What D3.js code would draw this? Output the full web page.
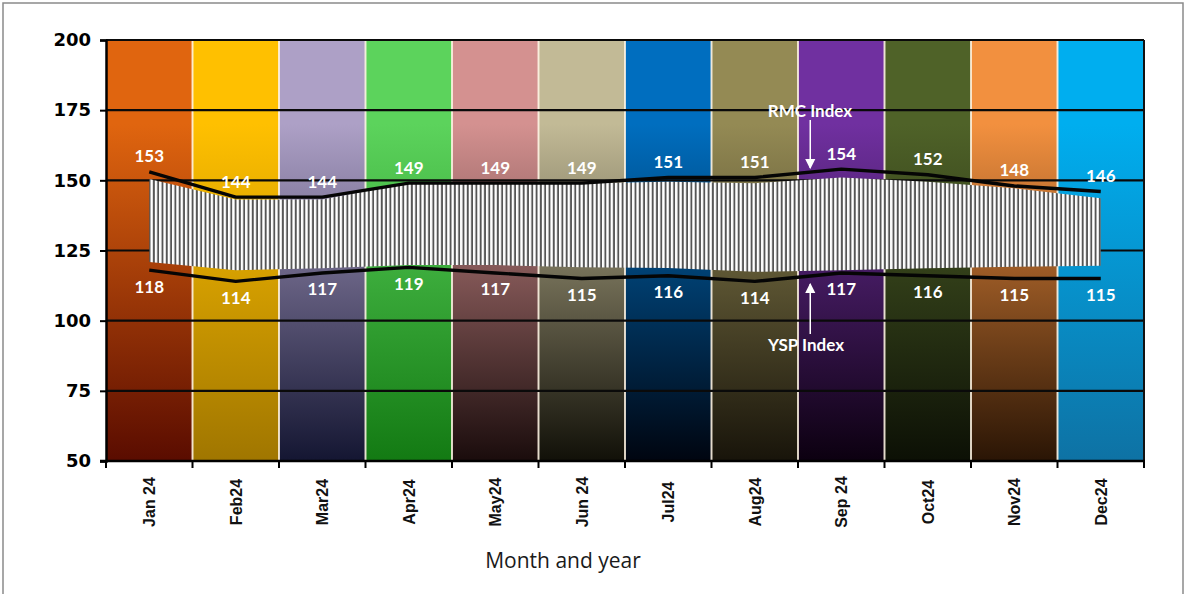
<!DOCTYPE html>
<html>
<head>
<meta charset="utf-8">
<script src="https://cdn.jsdelivr.net/npm/d3@7"></script>
<style>
  body { margin: 0; background: #fff; }
  svg { display: block; }
</style>
</head>
<body>
<svg id="chart" width="1187" height="594"></svg>
<script>
// Monthly index values
const months = ["Jan 24", "Feb24", "Mar24", "Apr24", "May24", "Jun 24", "Jul24", "Aug24", "Sep 24", "Oct24", "Nov24", "Dec24"];
const rmcIndex = [153, 144, 144, 149, 149, 149, 151, 151, 154, 152, 148, 146];
const yspIndex = [118, 114, 117, 119, 117, 115, 116, 114, 117, 116, 115, 115];
// Edges of the hatched band lying between the two index lines
const bandTop = [150.5, 143.2, 143.2, 149, 149, 149, 149.5, 149, 151, 149.5, 147.2, 143.6];
const bandBottom = [120.9, 118, 118.7, 119.8, 119.8, 119, 118.8, 117.4, 118, 118.7, 119.2, 119.6];
const yTicks = [50, 75, 100, 125, 150, 175, 200];

// Column backdrop colours (top, bottom of each gradient)
const colTop = ["#E0650F", "#FFC000", "#ADA0C6", "#5CD35C", "#D49190", "#C2BA96", "#006EBF", "#948A54", "#7030A0", "#4F6228", "#F2903F", "#00AEEF"];
const colBottom = ["#5A0C00", "#A07600", "#141632", "#137A13", "#1A0C0C", "#111008", "#000510", "#18140A", "#0C0010", "#0C1005", "#2A1505", "#0E72A4"];

const svg = d3.select("#chart");
const plotLeft = 106, plotRight = 1144, plotTop = 40, plotBottom = 461;

const x = d3.scaleBand().domain(months).range([plotLeft, plotRight]).padding(0);
const y = d3.scaleLinear().domain([50, 200]).range([plotBottom, plotTop]);
const cx = m => x(m) + x.bandwidth() / 2;

// Outer frame
svg.append("rect")
  .attr("x", 3).attr("y", 3).attr("width", 1180).attr("height", 600)
  .attr("fill", "#fff").attr("stroke", "#8a8a8a").attr("stroke-width", 1.5);

const defs = svg.append("defs");
months.forEach((m, i) => {
  const g = defs.append("linearGradient")
    .attr("id", "col" + i).attr("x1", 0).attr("y1", 0).attr("x2", 0).attr("y2", 1);
  g.append("stop").attr("offset", "0%").attr("stop-color", colTop[i]);
  g.append("stop").attr("offset", "20%").attr("stop-color", colTop[i]);
  g.append("stop").attr("offset", "100%").attr("stop-color", colBottom[i]);
});

// Vertical stripe pattern for the band
const pat = defs.append("pattern")
  .attr("id", "stripes").attr("patternUnits", "userSpaceOnUse")
  .attr("width", 4.3).attr("height", 10);
pat.append("rect").attr("width", 4.3).attr("height", 10).attr("fill", "#555");
pat.append("rect").attr("width", 2.4).attr("height", 10).attr("fill", "#ffffff");

// Coloured month columns
svg.append("g").selectAll("rect")
  .data(months)
  .join("rect")
  .attr("x", d => x(d)).attr("y", y(200))
  .attr("width", x.bandwidth()).attr("height", y(50) - y(200))
  .attr("fill", (d, i) => `url(#col${i})`);

// Column separators
svg.append("g").selectAll("line")
  .data(months.slice(1))
  .join("line")
  .attr("x1", d => x(d)).attr("x2", d => x(d))
  .attr("y1", y(200)).attr("y2", y(50))
  .attr("stroke", "rgba(255,244,228,0.85)").attr("stroke-width", 2);

// Horizontal gridlines
svg.append("g").selectAll("line")
  .data(yTicks)
  .join("line")
  .attr("x1", plotLeft).attr("x2", plotRight)
  .attr("y1", d => y(d)).attr("y2", d => y(d))
  .attr("stroke", "#0a0a0a").attr("stroke-width", 2.2);

// Right border of plot
svg.append("line")
  .attr("x1", plotRight).attr("x2", plotRight).attr("y1", y(200)).attr("y2", y(50))
  .attr("stroke", "#111").attr("stroke-width", 2);

// Y axis
const yAxis = svg.append("g")
  .attr("transform", `translate(${plotLeft},0)`)
  .call(d3.axisLeft(y).tickValues(yTicks).tickSize(6).tickPadding(9));
yAxis.select(".domain").attr("stroke", "#000").attr("stroke-width", 2.5);
yAxis.selectAll(".tick line").attr("stroke", "#000").attr("stroke-width", 2);
yAxis.selectAll(".tick text")
  .attr("font-family", "DejaVu Sans")
  .attr("font-weight", "bold")
  .attr("font-size", 18)
  .attr("fill", "#000");

// X axis baseline and boundary ticks
const bounds = months.map(m => x(m)).concat([plotRight]);
svg.append("g").selectAll("line")
  .data(bounds)
  .join("line")
  .attr("x1", d => d).attr("x2", d => d)
  .attr("y1", y(50)).attr("y2", y(50) + 7)
  .attr("stroke", "#000").attr("stroke-width", 2);
svg.append("line")
  .attr("x1", plotLeft - 6).attr("x2", plotRight + 1).attr("y1", y(50)).attr("y2", y(50))
  .attr("stroke", "#000").attr("stroke-width", 2.5);

// Month labels, rotated
svg.append("g").selectAll("text")
  .data(months)
  .join("text")
  .attr("transform", d => `translate(${cx(d) + 6},502) rotate(-90)`)
  .attr("text-anchor", "middle")
  .attr("font-family", "Liberation Sans Narrow, Liberation Sans, Arial")
  .attr("font-weight", "bold")
  .attr("font-size", 16)
  .attr("fill", "#111")
  .text(d => d);

// Axis title
svg.append("text")
  .attr("x", 563).attr("y", 568)
  .attr("text-anchor", "middle")
  .attr("font-family", "Open Sans")
  .attr("font-size", 21)
  .attr("fill", "#1a1a1a")
  .text("Month and year");

// Hatched band
const band = d3.area()
  .x((d, i) => cx(months[i]))
  .y0((d, i) => y(bandBottom[i]))
  .y1((d, i) => y(bandTop[i]));
svg.append("path")
  .datum(months)
  .attr("d", band)
  .attr("fill", "url(#stripes)");

// Index lines
const line = d3.line().x((d, i) => cx(months[i])).y(d => y(d));
[rmcIndex, yspIndex].forEach(series => {
  svg.append("path")
    .datum(series)
    .attr("d", line)
    .attr("fill", "none")
    .attr("stroke", "#050505")
    .attr("stroke-width", 3.4)
    .attr("stroke-linejoin", "round");
});

// Value labels
const labelStyle = sel => sel
  .attr("text-anchor", "middle")
  .attr("dominant-baseline", "central")
  .attr("font-family", "Lato")
  .attr("font-weight", "bold")
  .attr("font-size", 17)
  .attr("fill", "#fff");

svg.append("g").selectAll("text")
  .data(rmcIndex)
  .join("text")
  .attr("x", (d, i) => cx(months[i]))
  .attr("y", d => y(d) - 16)
  .text(d => d)
  .call(labelStyle);

svg.append("g").selectAll("text")
  .data(yspIndex)
  .join("text")
  .attr("x", (d, i) => cx(months[i]))
  .attr("y", d => y(d) + 16)
  .text(d => d)
  .call(labelStyle);

// Series annotations with arrows
defs.append("marker")
  .attr("id", "arrow").attr("viewBox", "0 0 10 10")
  .attr("refX", 9).attr("refY", 5)
  .attr("markerWidth", 7).attr("markerHeight", 7)
  .attr("orient", "auto")
  .append("path").attr("d", "M0,0 L10,5 L0,10 z").attr("fill", "#fff");

const ax = cx("Sep 24") - 31;
svg.append("line")
  .attr("x1", ax).attr("x2", ax)
  .attr("y1", 120).attr("y2", y(rmcIndex[8]) - 1)
  .attr("stroke", "#fff").attr("stroke-width", 1.5)
  .attr("marker-end", "url(#arrow)");
svg.append("line")
  .attr("x1", ax).attr("x2", ax)
  .attr("y1", 334).attr("y2", y(yspIndex[8]) + 11)
  .attr("stroke", "#fff").attr("stroke-width", 1.5)
  .attr("marker-end", "url(#arrow)");

svg.append("text")
  .attr("x", 810).attr("y", 110)
  .text("RMC Index")
  .call(labelStyle);
svg.append("text")
  .attr("x", 806).attr("y", 344)
  .text("YSP Index")
  .call(labelStyle);
</script>
</body>
</html>
